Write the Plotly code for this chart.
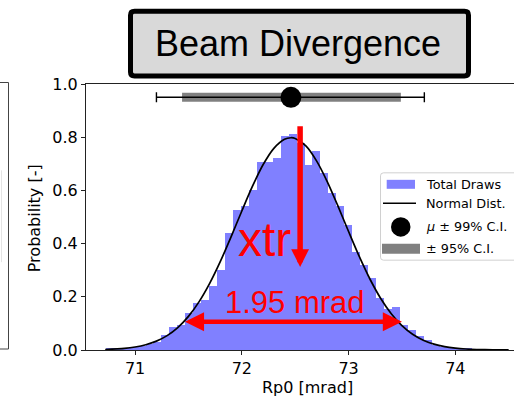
import plotly.graph_objects as go

# ---------------- data ----------------
bin_start = 70.725
bin_width = 0.0745
draw_density = [0.004, 0.005, 0.007, 0.010, 0.015, 0.021, 0.031, 0.058, 0.087, 0.094,
                0.138, 0.176, 0.188, 0.240, 0.300, 0.440, 0.528, 0.540, 0.600, 0.706,
                0.706, 0.722, 0.803, 0.812, 0.780, 0.694, 0.750, 0.665, 0.590, 0.540,
                0.470, 0.370, 0.320, 0.272, 0.195, 0.155, 0.160, 0.094, 0.074, 0.052,
                0.037, 0.019, 0.013, 0.008, 0.007, 0.004, 0.003, 0.002, 0.001, 0.001]

normal_x = [70.72, 70.9, 71.0, 71.1, 71.2, 71.3, 71.4, 71.5, 71.6, 71.7, 71.8, 71.9,
            72.0, 72.1, 72.2, 72.3, 72.4, 72.46, 72.5, 72.6, 72.7, 72.8, 72.9, 73.0,
            73.1, 73.2, 73.3, 73.4, 73.5, 73.6, 73.7, 73.8, 73.9, 74.0, 74.1, 74.2,
            74.35, 74.5]
normal_y = [0.0019, 0.0061, 0.0112, 0.0198, 0.0333, 0.0541, 0.0843, 0.1263, 0.1818,
            0.2514, 0.3340, 0.4262, 0.5227, 0.6158, 0.6972, 0.7582, 0.7923, 0.7980,
            0.7954, 0.7674, 0.7112, 0.6333, 0.5418, 0.4454, 0.3517, 0.2669, 0.1946,
            0.1363, 0.0918, 0.0593, 0.0369, 0.0220, 0.0126, 0.0070, 0.0037, 0.0019,
            0.0006, 0.0002]

mu = 72.46
ci99 = [71.20, 73.71]
ci95 = [71.44, 73.49]
ci_level = 0.95

spread_label = "1.95 mrad"
spread_ends = [71.453, 73.50]
spread_level = 0.106
shift_label = "xtr"
shift_x = 72.546
shift_top = 0.847
shift_tip = 0.312

x_ticks = [71, 72, 73, 74]
y_ticks = [0.0, 0.2, 0.4, 0.6, 0.8, 1.0]
y_tick_text = ["0.0", "0.2", "0.4", "0.6", "0.8", "1.0"]

legend_labels = ["Total Draws", "Normal Dist.", "<i>μ</i> ± 99% C.I.", "± 95% C.I."]
title_text = "Beam Divergence"
x_title = "Rp0 [mrad]"
y_title = "Probability [-]"

# ---------------- layout geometry ----------------
W, H = 514, 397
ML, MR, MT, MB = 86, 0, 83.5, 47
PW = W - ML - MR
PH = H - MT - MB


def px(x):
    return (x - ML) / PW


def py(y):
    return (H - MB - y) / PH


BLUE = "#8080ff"
RED = "#ff0000"
GRAY = "#808080"

bin_centers = [bin_start + bin_width * (i + 0.5) for i in range(len(draw_density))]

fig = go.Figure()

fig.add_trace(go.Bar(x=bin_centers, y=draw_density, width=[bin_width] * len(draw_density),
                     marker=dict(color=BLUE, line=dict(width=0)), showlegend=False,
                     hoverinfo="skip"))
fig.add_trace(go.Scatter(x=normal_x, y=normal_y, mode="lines",
                         line=dict(color="black", width=1.7, shape="spline", smoothing=0.8),
                         showlegend=False, hoverinfo="skip"))
fig.add_trace(go.Scatter(x=ci95, y=[ci_level, ci_level], mode="lines",
                         line=dict(color=GRAY, width=9), showlegend=False, hoverinfo="skip"))
fig.add_trace(go.Scatter(x=[mu], y=[ci_level], mode="markers",
                         marker=dict(color="black", size=21),
                         error_x=dict(type="data", symmetric=False,
                                      array=[ci99[1] - mu], arrayminus=[mu - ci99[0]],
                                      color="black", thickness=1.4, width=5),
                         showlegend=False, hoverinfo="skip"))

shapes = []
annotations = []


def rounded_rect(x0, y0, x1, y1, r):
    # pixel coordinates -> paper path
    pts = [
        f"M {px(x0 + r)},{py(y0)}",
        f"L {px(x1 - r)},{py(y0)}",
        f"Q {px(x1)},{py(y0)} {px(x1)},{py(y0 + r)}",
        f"L {px(x1)},{py(y1 - r)}",
        f"Q {px(x1)},{py(y1)} {px(x1 - r)},{py(y1)}",
        f"L {px(x0 + r)},{py(y1)}",
        f"Q {px(x0)},{py(y1)} {px(x0)},{py(y1 - r)}",
        f"L {px(x0)},{py(y0 + r)}",
        f"Q {px(x0)},{py(y0)} {px(x0 + r)},{py(y0)}",
        "Z",
    ]
    return " ".join(pts)


# Title box
shapes.append(dict(type="path", xref="paper", yref="paper",
                   path=rounded_rect(130.5, 10.5, 468.5, 75.5, 4),
                   fillcolor="#d9d9d9", line=dict(color="black", width=5), layer="above"))
annotations.append(dict(xref="paper", yref="paper", x=px(297.5), y=py(43), text=title_text,
                        showarrow=False, xanchor="center", yanchor="middle",
                        font=dict(family="Liberation Sans, Arial", size=36, color="black")))

# Left neighbouring panel fragment
shapes.append(dict(type="path", xref="paper", yref="paper",
                   path=f"M {px(-2)},{py(82)} L {px(8.5)},{py(82)} L {px(8.5)},{py(349)} L {px(-2)},{py(349)}",
                   line=dict(color="#444444", width=1)))
shapes.append(dict(type="line", xref="paper", yref="paper",
                   x0=px(1.5), x1=px(1.5), y0=py(170), y1=py(262),
                   line=dict(color="#e4e4e4", width=1)))

# Legend (drawn manually)
shapes.append(dict(type="path", xref="paper", yref="paper",
                   path=rounded_rect(380.5, 172.5, 530, 260, 3),
                   fillcolor="rgba(255,255,255,0.85)", line=dict(color="#d0d0d0", width=1),
                   layer="above"))
shapes.append(dict(type="rect", xref="paper", yref="paper",
                   x0=px(386.7), x1=px(415), y0=py(179.5), y1=py(188.5),
                   fillcolor=BLUE, line=dict(width=0), layer="above"))
shapes.append(dict(type="line", xref="paper", yref="paper",
                   x0=px(383), x1=px(416), y0=py(203), y1=py(203),
                   line=dict(color="black", width=1.6), layer="above"))
shapes.append(dict(type="circle", xref="paper", yref="paper",
                   x0=px(391), x1=px(410.5), y0=py(217), y1=py(236.5),
                   fillcolor="black", line=dict(width=0), layer="above"))
shapes.append(dict(type="rect", xref="paper", yref="paper",
                   x0=px(382), x1=px(420), y0=py(243.5), y1=py(253.5),
                   fillcolor=GRAY, line=dict(width=0), layer="above"))
for lab, yc in zip(legend_labels, [184, 203, 226.5, 248.5]):
    annotations.append(dict(xref="paper", yref="paper", x=px(424), y=py(yc), text=lab,
                            showarrow=False, xanchor="left", yanchor="middle",
                            font=dict(family="DejaVu Sans", size=12.8, color="black")))

# Red annotations
annotations.append(dict(x=spread_ends[1], y=spread_level, ax=spread_ends[0], ay=spread_level,
                        xref="x", yref="y", axref="x", ayref="y", text="", showarrow=True,
                        arrowhead=2, startarrowhead=2, arrowside="end+start",
                        arrowsize=0.85, startarrowsize=0.85, arrowwidth=4.5,
                        arrowcolor=RED, standoff=0, startstandoff=0))
annotations.append(dict(x=shift_x, y=shift_tip, ax=shift_x, ay=shift_top,
                        xref="x", yref="y", axref="x", ayref="y", text="", showarrow=True,
                        arrowhead=2, arrowsize=0.65, arrowwidth=5.5,
                        arrowcolor=RED, standoff=0))
annotations.append(dict(xref="paper", yref="paper", x=px(264), y=py(239), text=shift_label,
                        showarrow=False, xanchor="center", yanchor="middle",
                        font=dict(family="Liberation Sans, Arial", size=48, color=RED)))
annotations.append(dict(xref="paper", yref="paper", x=px(295), y=py(302), text=spread_label,
                        showarrow=False, xanchor="center", yanchor="middle",
                        font=dict(family="Liberation Sans, Arial", size=31, color=RED)))

# Axis titles
annotations.append(dict(xref="paper", yref="paper", x=px(307), y=py(388), text=x_title,
                        showarrow=False, xanchor="center", yanchor="middle",
                        font=dict(family="DejaVu Sans", size=16, color="black")))
annotations.append(dict(xref="paper", yref="paper", x=px(34), y=py(218), text=y_title,
                        showarrow=False, xanchor="center", yanchor="middle", textangle=-90,
                        font=dict(family="DejaVu Sans", size=16, color="black")))

fig.update_layout(
    width=W, height=H,
    margin=dict(l=ML, r=MR, t=MT, b=MB, pad=0),
    paper_bgcolor="white", plot_bgcolor="white",
    barmode="overlay", bargap=0,
    showlegend=False,
    shapes=shapes, annotations=annotations,
    xaxis=dict(range=[70.54, 74.55], tickvals=x_ticks, ticktext=[str(t) for t in x_ticks],
               showgrid=False, zeroline=False, showline=True, linecolor="#222222", linewidth=1,
               mirror=True, ticks="outside", ticklen=4, tickwidth=1, tickcolor="#222222",
               tickfont=dict(family="DejaVu Sans", size=16, color="black")),
    yaxis=dict(range=[0, 1.0], tickvals=y_ticks, ticktext=y_tick_text,
               showgrid=False, zeroline=False, showline=True, linecolor="#222222", linewidth=1,
               ticks="outside", ticklen=4, tickwidth=1, tickcolor="#222222",
               tickfont=dict(family="DejaVu Sans", size=16, color="black")),
)

fig.write_html("out.html", config={"displayModeBar": False})
